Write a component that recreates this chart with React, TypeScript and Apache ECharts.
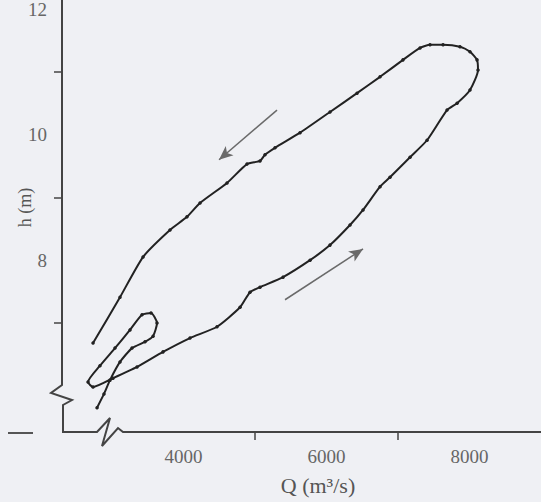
import React, { useEffect, useRef } from "react";
import * as echarts from "echarts";

// Discharge Q (m³/s) and stage h (m) along the hysteresis loop, in drawing order
const dischargeQ = [
  2790, 2887, 2971, 3111, 3279, 3461, 3573, 3629, 3545, 3419, 3251, 3041, 2831, 2664,
  2734, 3013, 3349, 3713, 4090, 4468, 4790, 4929, 5069, 5391, 5769, 6048, 6328, 6510,
  6748, 6887, 7167, 7405, 7685, 7825, 8006, 8118, 8104, 8006, 7866, 7629, 7447, 7307,
  7069, 6748, 6426, 6048, 5629, 5279, 5139, 5069, 4887, 4608, 4230, 4048, 3810, 3433,
  3111, 2734,
];
const stageH = [
  5.65, 5.87, 6.09, 6.38, 6.6, 6.7, 6.79, 7.0, 7.16, 7.13, 6.89, 6.6, 6.32, 6.06,
  5.98, 6.12, 6.3, 6.54, 6.76, 6.94, 7.25, 7.49, 7.57, 7.73, 8.0, 8.24, 8.56, 8.8,
  9.17, 9.32, 9.64, 9.91, 10.39, 10.5, 10.71, 11.03, 11.19, 11.32, 11.4, 11.43, 11.43, 11.38,
  11.19, 10.92, 10.66, 10.36, 10.03, 9.79, 9.68, 9.58, 9.53, 9.23, 8.91, 8.69, 8.48, 8.05,
  7.41, 6.68,
];

// Direction arrows: [fromQ, fromH, toQ, toH]
const fallingArrow = [5307, 10.39, 4496, 9.6];
const risingArrow = [5419, 7.37, 6510, 8.18];

// Axis ticks / labels
const xLabelValues = [4000, 6000, 8000];
const xTickValues = [5000, 7000];
const yLabelValues = [8, 10, 12];
const yTickValues = [7, 9, 11];

export default function App() {
  const ref = useRef<HTMLDivElement>(null);

  useEffect(() => {
    if (!ref.current) return;
    const chart = echarts.init(ref.current, undefined, { renderer: "svg" });
    const data = dischargeQ.map((q, i) => [q, stageH[i]]);
    const axisColor = "#444";
    const font = "Liberation Serif";

    chart.setOption({
      animation: false,
      backgroundColor: "#eff0f4",
      grid: { left: 62, right: 1, top: 9, bottom: 70, containLabel: false, outerBoundsMode: "none" },
      xAxis: {
        type: "value",
        min: 2300,
        max: 8985,
        name: "Q (m³/s)",
        nameLocation: "middle",
        nameGap: 42,
        nameMoveOverlap: false,
        nameTextStyle: { fontFamily: font, fontSize: 22, color: "#555", padding: [0, 0, 0, 34] },
        axisLine: { show: false },
        splitLine: { show: false },
        axisTick: {
          show: true,
          inside: false,
          customValues: xTickValues,
          length: 8,
          lineStyle: { color: axisColor, width: 1.5 },
        },
        axisLabel: {
          customValues: xLabelValues,
          formatter: (v: number) => String(v),
          margin: 15,
          fontFamily: font,
          fontSize: 19,
          color: "#666",
        },
      },
      yAxis: {
        type: "value",
        min: 5.264,
        max: 12,
        name: "h (m)",
        nameLocation: "middle",
        nameRotate: 90,
        nameGap: 28,
        nameMoveOverlap: false,
        nameTextStyle: { fontFamily: font, fontSize: 18, color: "#555", padding: [0, 0, 0, 26] },
        axisLine: { show: false },
        splitLine: { show: false },
        axisTick: {
          show: true,
          inside: false,
          customValues: yTickValues,
          length: 8,
          lineStyle: { color: axisColor, width: 1.5 },
        },
        axisLabel: {
          customValues: yLabelValues,
          formatter: (v: number) => String(v),
          margin: 15,
          fontFamily: font,
          fontSize: 19,
          color: "#666",
        },
      },
      graphic: [
        {
          type: "polyline",
          silent: true,
          shape: {
            points: [
              [62, 0], [62, 385], [51, 393], [72, 400], [63, 405], [63, 432],
              [97, 432], [110, 418], [102, 446], [118, 428], [123, 432], [541, 432],
            ],
          },
          style: { stroke: axisColor, lineWidth: 2, fill: "none" },
        },
        {
          type: "line",
          silent: true,
          shape: { x1: 8, y1: 433, x2: 33, y2: 433 },
          style: { stroke: "#555", lineWidth: 2 },
        },
      ],
      series: [
        {
          type: "line",
          data,
          smooth: 0.2,
          symbol: "circle",
          symbolSize: 3.5,
          showAllSymbol: true,
          lineStyle: { color: "#222", width: 2 },
          itemStyle: { color: "#222" },
          emphasis: { disabled: true },
          markLine: {
            silent: true,
            symbol: ["none", "arrow"],
            symbolSize: [9, 14],
            label: { show: false },
            lineStyle: { color: "#6a6a6a", width: 1.5, type: "solid" },
            data: [
              [
                { coord: [fallingArrow[0], fallingArrow[1]] },
                { coord: [fallingArrow[2], fallingArrow[3]] },
              ],
              [
                { coord: [risingArrow[0], risingArrow[1]] },
                { coord: [risingArrow[2], risingArrow[3]] },
              ],
            ],
          },
        },
      ],
    });

    return () => chart.dispose();
  }, []);

  return (
    <div
      ref={ref}
      style={{ position: "fixed", left: 0, top: 0, width: 541, height: 502 }}
    />
  );
}
